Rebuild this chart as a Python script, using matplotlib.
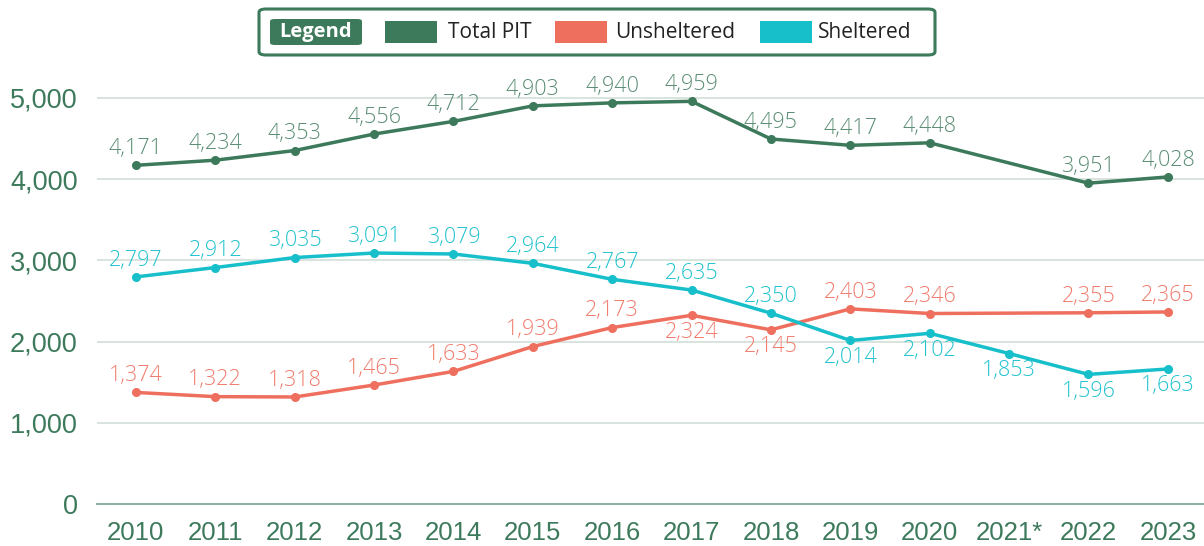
import numpy as np
import matplotlib.pyplot as plt
from matplotlib.patches import FancyBboxPatch, Rectangle

years = ['2010', '2011', '2012', '2013', '2014', '2015', '2016',
         '2017', '2018', '2019', '2020', '2021*', '2022', '2023']
total_pit = [4171, 4234, 4353, 4556, 4712, 4903, 4940, 4959, 4495, 4417, 4448, None, 3951, 4028]
unsheltered = [1374, 1322, 1318, 1465, 1633, 1939, 2173, 2324, 2145, 2403, 2346, None, 2355, 2365]
sheltered = [2797, 2912, 3035, 3091, 3079, 2964, 2767, 2635, 2350, 2014, 2102, 1853, 1596, 1663]

# label side: 1 above, -1 below
unsh_side = [1, 1, 1, 1, 1, 1, 1, -1, -1, 1, 1, 1, 1, 1]
shel_side = [1, 1, 1, 1, 1, 1, 1, 1, 1, -1, -1, -1, -1, -1]

GREEN = '#3c7a5b'
RED = '#ef6f5f'
CYAN = '#17bfcb'

W, H = 1204, 546
fig = plt.figure(figsize=(W / 100, H / 100), dpi=100)
ax = fig.add_axes([97 / W, 42 / H, 1 - 97 / W, 446.6 / H])

x = np.arange(len(years))


def draw(vals, color, lblcolor, sides):
    xs = [i for i, v in enumerate(vals) if v is not None]
    ys = [vals[i] for i in xs]
    ax.plot(xs, ys, color=color, lw=2.5, marker='o', markersize=5.5, zorder=3)
    for i in xs:
        s = sides[i]
        ax.annotate(f'{vals[i]:,}', (i, vals[i]), xytext=(0, 4.5 * s),
                    textcoords='offset points', ha='center',
                    va='bottom' if s > 0 else 'top', color=lblcolor,
                    fontsize=15.5, family='Open Sans', fontweight='light')


draw(total_pit, GREEN, '#5a8d73', [1] * 14)
draw(unsheltered, RED, '#f07c6d', unsh_side)
draw(sheltered, CYAN, '#22c3cf', shel_side)

ax.set_xlim(-0.49, 13.455)
ax.set_ylim(0, 5500)
ax.set_yticks([0, 1000, 2000, 3000, 4000, 5000])
ax.set_yticklabels(['0', '1,000', '2,000', '3,000', '4,000', '5,000'])
ax.set_xticks(x)
ax.set_xticklabels(years)
ax.yaxis.grid(True, color='#d3dfd9', lw=1.2)
ax.set_axisbelow(True)
for sp in ['left', 'right', 'top']:
    ax.spines[sp].set_visible(False)
ax.spines['bottom'].set_color('#8cb3a1')
ax.spines['bottom'].set_linewidth(1.5)
ax.tick_params(length=0, labelsize=18.5, labelcolor='#3d7a5c')
ax.tick_params(axis='y', pad=14, labelsize=19.5)
ax.tick_params(axis='x', pad=12)
for t in ax.get_xticklabels() + ax.get_yticklabels():
    t.set_family('Liberation Sans')

# legend box
def fx(px):
    return px / W


def fy(py):
    return 1 - py / H


fig.add_artist(FancyBboxPatch((fx(259), fy(55)), fx(935) - fx(259), fy(9) - fy(55),
                              boxstyle='round,pad=0,rounding_size=0.006',
                              transform=fig.transFigure, fc='white', ec=GREEN, lw=2.2))
fig.add_artist(FancyBboxPatch((fx(270), fy(45)), fx(362) - fx(270), fy(19) - fy(45),
                              boxstyle='round,pad=0,rounding_size=0.004',
                              transform=fig.transFigure, fc=GREEN, ec='none'))
fig.text(fx(316), fy(32), 'Legend', ha='center', va='center', color='white',
         fontsize=14.5, fontweight='bold', family='Open Sans')
items = [('Total PIT', GREEN, 385, 448), ('Unsheltered', RED, 555, 615), ('Sheltered', CYAN, 760, 818)]
for name, col, px, tx in items:
    fig.add_artist(Rectangle((fx(px), fy(43)), fx(52), 22 / H,
                             transform=fig.transFigure, fc=col, ec='none'))
    fig.text(fx(tx), fy(32), name, ha='left', va='center', color='#222222',
             fontsize=15, family='Open Sans')

fig.savefig('out.png', dpi=100)
